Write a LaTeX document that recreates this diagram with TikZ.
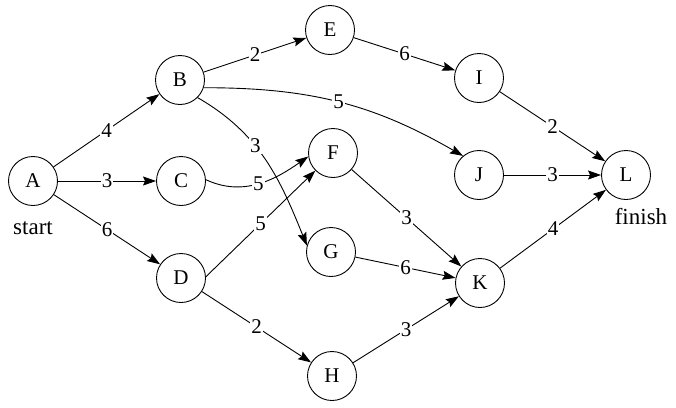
\documentclass[tikz,border=0pt]{standalone}
\usepackage{fontspec}
\setmainfont{Liberation Serif}
\usetikzlibrary{arrows.meta}
\begin{document}
\begin{tikzpicture}[x=1pt,y=-1pt,
  vtx/.style={circle,draw,line width=0.9pt,minimum size=49pt,inner sep=0pt,font=\fontsize{21}{21}\selectfont},
  edge/.style={line width=0.9pt,-{Stealth[length=13pt,width=9pt,inset=2pt]}},
  wt/.style={fill=white,inner sep=1pt,font=\fontsize{21}{21}\selectfont},
  side/.style={font=\fontsize{23}{23}\selectfont}]
\useasboundingbox (0,0) rectangle (676,407);
\node[vtx] (A) at (33,181) {A};
\node[vtx] (B) at (180,80) {B};
\node[vtx] (C) at (181,181) {C};
\node[vtx] (D) at (181,278) {D};
\node[vtx] (E) at (330,30) {E};
\node[vtx] (F) at (333,153) {F};
\node[vtx] (G) at (331,252) {G};
\node[vtx] (H) at (332,376) {H};
\node[vtx] (I) at (479,78) {I};
\node[vtx] (J) at (479,175) {J};
\node[vtx] (K) at (480,283) {K};
\node[vtx] (L) at (626,175) {L};
\node[side] (st) at (33,228) {start};
\node[side] (fi) at (641,217) {finish};
\draw[edge] (A) -- node[wt] {4} (B);
\draw[edge] (A) -- node[wt] {3} (C);
\draw[edge] (A) -- node[wt] {6} (D);
\draw[edge] (B) -- node[wt] {2} (E);
\draw[edge] (B.-18) to[out=0,in=150] node[wt,pos=0.5] {5} (J.130);
\draw[edge] (B.-45) to[out=-30,in=112] node[wt,pos=0.4] {3} (G.165);
\draw[edge] (C.3) to[out=-25,in=215] node[wt,pos=0.5] {5} (F.188);
\draw[edge] (D.3) -- node[wt,pos=0.5] {5} (F.225);
\draw[edge] (D) -- node[wt] {2} (H);
\draw[edge] (E) -- node[wt] {6} (I);
\draw[edge] (F) -- node[wt] {3} (K);
\draw[edge] (G) -- node[wt] {6} (K);
\draw[edge] (H) -- node[wt] {3} (K);
\draw[edge] (I) -- node[wt] {2} (L);
\draw[edge] (J) -- node[wt] {3} (L);
\draw[edge] (K) -- node[wt] {4} (L);
\end{tikzpicture}
\end{document}
